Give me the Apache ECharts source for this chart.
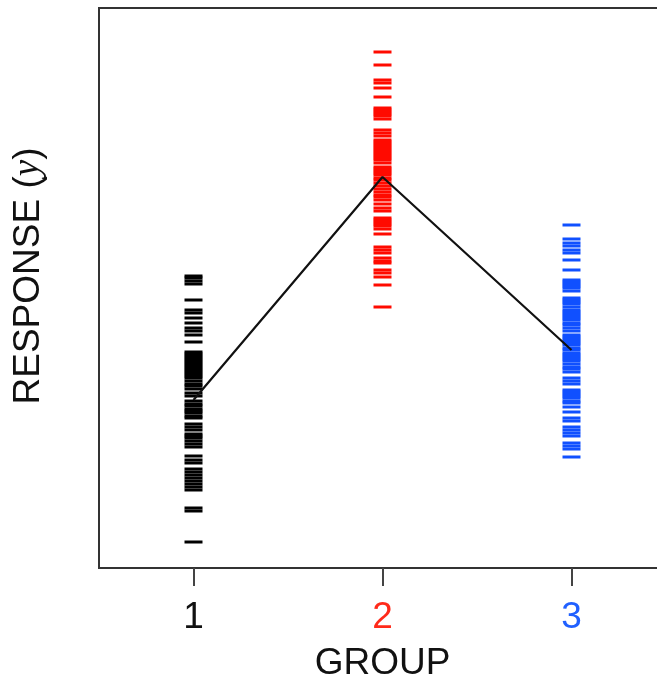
<!DOCTYPE html>
<html>
<head>
<meta charset="utf-8">
<script src="https://cdn.jsdelivr.net/npm/echarts@6/dist/echarts.min.js"></script>
<style>
html,body{margin:0;padding:0;background:#fff;}
#chart{width:657px;height:678px;}
</style>
</head>
<body>
<div id="chart"></div>
<script>
const groups = ['1', '2', '3'];
const groupColors = ['#000000', '#ff0a00', '#1050ff'];
const group1 = [29.2, 29.0, 28.7, 28.4, 26.8, 25.8, 25.5, 25.0, 24.5, 24.0, 23.7, 23.3, 22.6, 21.6, 21.4, 21.2, 21.0, 20.8, 20.6, 20.4, 20.2, 20.0, 19.8, 19.6, 19.4, 19.2, 19.0, 18.7, 18.4, 18.2, 17.9, 17.5, 17.2, 16.7, 16.4, 16.2, 15.9, 15.7, 15.5, 15.2, 15.0, 14.4, 14.1, 13.8, 13.4, 13.2, 13.0, 12.7, 12.4, 12.1, 11.2, 10.8, 10.5, 9.9, 9.6, 9.3, 9.0, 8.7, 8.4, 8.1, 7.8, 6.0, 5.7, 2.6];
const group2 = [51.6, 50.3, 48.8, 48.5, 48.0, 47.1, 46.0, 45.8, 45.6, 45.4, 45.2, 44.9, 43.8, 43.5, 43.2, 42.8, 42.6, 42.4, 42.2, 42.0, 41.8, 41.6, 41.4, 41.2, 41.0, 40.8, 40.5, 40.1, 39.9, 39.7, 39.5, 39.3, 39.0, 38.8, 38.5, 38.2, 37.9, 37.6, 37.3, 37.1, 36.8, 36.4, 36.0, 35.7, 35.0, 34.8, 34.6, 34.4, 34.2, 33.9, 33.4, 32.1, 31.8, 31.5, 31.0, 30.7, 30.5, 29.8, 29.5, 29.1, 28.3, 26.1];
const group3 = [34.3, 32.9, 32.5, 32.2, 31.8, 31.5, 30.8, 29.8, 28.8, 28.6, 28.4, 28.2, 28.0, 27.7, 27.0, 26.8, 26.6, 26.4, 26.1, 25.8, 25.6, 25.4, 25.2, 25.0, 24.8, 24.5, 24.3, 24.0, 23.7, 23.3, 23.1, 22.9, 22.7, 22.5, 22.3, 22.0, 21.8, 21.5, 21.3, 21.1, 20.9, 20.7, 20.4, 20.1, 19.9, 19.6, 19.0, 18.7, 18.4, 17.8, 17.6, 17.4, 17.2, 17.0, 16.7, 16.5, 16.1, 15.6, 15.0, 14.7, 14.1, 13.8, 13.5, 13.2, 12.5, 12.2, 11.9, 11.1];
const groupMeans = [16.8, 39.1, 21.8];

const allGroups = [group1, group2, group3];
const font = '"Liberation Sans", Arial, Helvetica, sans-serif';
const fs = 37;

const chart = echarts.init(document.getElementById('chart'), null, {renderer: 'canvas'});
const series = allGroups.map((vals, gi) => ({
  type: 'scatter',
  symbol: 'rect',
  symbolSize: [18, 3],
  itemStyle: {color: groupColors[gi], opacity: 1},
  data: vals.map(v => [gi + 1, v]),
  z: 2,
  silent: true
}));
series.push({
  type: 'line',
  data: groupMeans.map((m, i) => [i + 1, m]),
  symbol: 'none',
  lineStyle: {color: '#111', width: 2.2},
  z: 5,
  silent: true
});

chart.setOption({
  animation: false,
  grid: {
    left: 99, right: -9, top: 8, bottom: 110,
    outerBoundsMode: 'none',
    containLabel: false,
    show: true, borderColor: '#333', borderWidth: 2, backgroundColor: 'transparent'
  },
  xAxis: {
    type: 'value', min: 0.5, max: 3.5, interval: 0.5,
    name: 'GROUP', nameLocation: 'middle', nameGap: 77,
    nameTextStyle: {fontFamily: font, fontSize: fs, color: '#111'},
    axisLine: {show: false},
    axisTick: {show: true, length: 18, lineStyle: {color: '#444', width: 2},
      customValues: [1, 2, 3]},
    splitLine: {show: false},
    axisLabel: {
      margin: 31,
      customValues: [1, 2, 3],
      formatter: function (v) {
        const i = Math.round(v) - 1;
        if (Math.abs(v - Math.round(v)) > 1e-6 || i < 0 || i > 2) return '';
        return '{g' + i + '|' + groups[i] + '}';
      },
      rich: {
        g0: {color: '#111', fontFamily: font, fontSize: fs},
        g1: {color: '#ff2a1a', fontFamily: font, fontSize: fs},
        g2: {color: '#2060ff', fontFamily: font, fontSize: fs}
      }
    }
  },
  yAxis: {
    type: 'value', min: 0, max: 56,
    name: 'RESPONSE ({i|y})', nameLocation: 'middle', nameGap: 52, nameRotate: 90,
    nameTextStyle: {fontFamily: font, fontSize: fs, color: '#111', padding: [0, 0, 0, 24],
      rich: {i: {fontFamily: '"Liberation Serif", "DejaVu Serif", serif', fontStyle: 'italic', fontSize: fs, color: '#111'}}},
    axisLine: {show: false},
    axisTick: {show: false},
    axisLabel: {show: false},
    splitLine: {show: false}
  },
  series: series
});
</script>
</body>
</html>
